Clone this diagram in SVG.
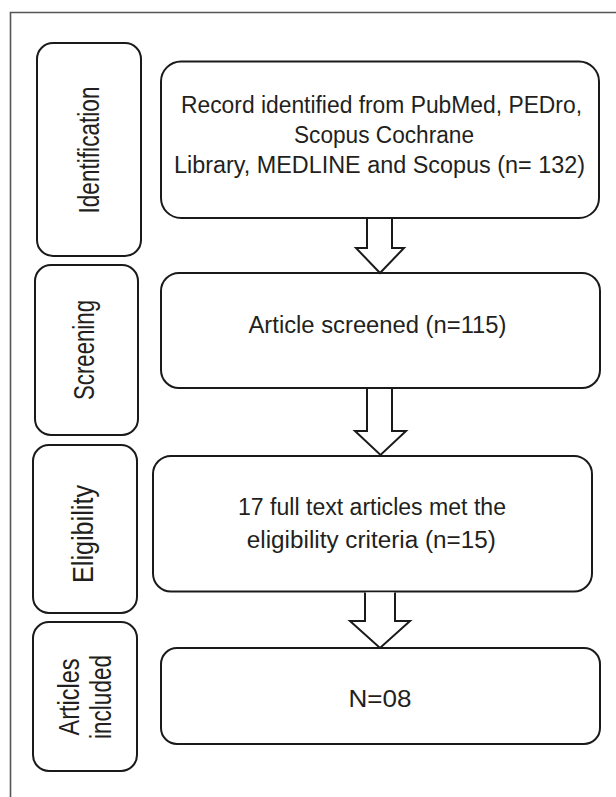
<svg xmlns="http://www.w3.org/2000/svg" width="616" height="797" viewBox="0 0 616 797">
<style>
  .box { fill: #ffffff; stroke: #1a1a1a; stroke-width: 2; }
  .arrow { fill: #ffffff; stroke: #1a1a1a; stroke-width: 2; stroke-linejoin: miter; }
  .t { font-family: "Liberation Sans", Arial, sans-serif; font-size: 23.5px; fill: #231f20; text-anchor: middle; }
  .s { font-family: "Liberation Sans", Arial, sans-serif; font-size: 29px; fill: #231f20; text-anchor: middle; }
</style>
<rect x="0" y="0" width="616" height="797" fill="#ffffff"/>
<path d="M10.5,797 V12.5 H616" fill="none" stroke="#555555" stroke-width="1.6"/>

<g id="stage-identification">
  <rect class="box" x="37" y="43" width="104" height="213" rx="16"/>
  <text class="s" transform="translate(99,150) rotate(-90)" textLength="127" lengthAdjust="spacingAndGlyphs">Identification</text>
</g>
<g id="stage-screening">
  <rect class="box" x="35" y="265" width="103" height="170" rx="16"/>
  <text class="s" transform="translate(94,350) rotate(-90)" textLength="100" lengthAdjust="spacingAndGlyphs">Screening</text>
</g>
<g id="stage-eligibility">
  <rect class="box" x="33" y="445" width="104" height="168" rx="16"/>
  <text class="s" transform="translate(93,534) rotate(-90)" textLength="98" lengthAdjust="spacingAndGlyphs">Eligibility</text>
</g>
<g id="stage-included">
  <rect class="box" x="33" y="622" width="104" height="149" rx="16"/>
  <text class="s" transform="translate(78.5,697) rotate(-90)" textLength="77" lengthAdjust="spacingAndGlyphs">Articles</text>
  <text class="s" transform="translate(110.7,697) rotate(-90)" textLength="84" lengthAdjust="spacingAndGlyphs">included</text>
</g>

<g id="node-identified">
  <rect class="box" x="161" y="61.5" width="438" height="156.5" rx="20"/>
  <text class="t" x="381.5" y="113" textLength="401" lengthAdjust="spacingAndGlyphs">Record identified from PubMed, PEDro,</text>
  <text class="t" x="384" y="143" textLength="180" lengthAdjust="spacingAndGlyphs">Scopus Cochrane</text>
  <text class="t" x="379.5" y="173" textLength="411" lengthAdjust="spacingAndGlyphs">Library, MEDLINE and Scopus (n= 132)</text>
</g>
<g id="node-screened">
  <rect class="box" x="161" y="273" width="439" height="115" rx="18"/>
  <text class="t" x="377.5" y="333" textLength="258" lengthAdjust="spacingAndGlyphs">Article screened (n=115)</text>
</g>
<g id="node-eligible">
  <rect class="box" x="153" y="456" width="439" height="135.5" rx="18"/>
  <text class="t" x="372" y="515" textLength="268" lengthAdjust="spacingAndGlyphs">17 full text articles met the</text>
  <text class="t" x="371.3" y="548" textLength="249" lengthAdjust="spacingAndGlyphs">eligibility criteria (n=15)</text>
</g>
<g id="node-included">
  <rect class="box" x="161" y="648" width="439" height="96" rx="16"/>
  <text class="t" x="380" y="706.7" textLength="63" lengthAdjust="spacingAndGlyphs">N=08</text>
</g>

<g id="connectors">
  <path class="arrow" d="M367,219 V248 H356 L380,273 L404,248 H392 V219"/>
  <path class="arrow" d="M367,389 V431 H355 L380.5,455 L406,431 H392 V389"/>
  <path class="arrow" d="M365,592.5 V621 H350 L380,648 L410,621 H395 V592.5"/>
</g>
</svg>
